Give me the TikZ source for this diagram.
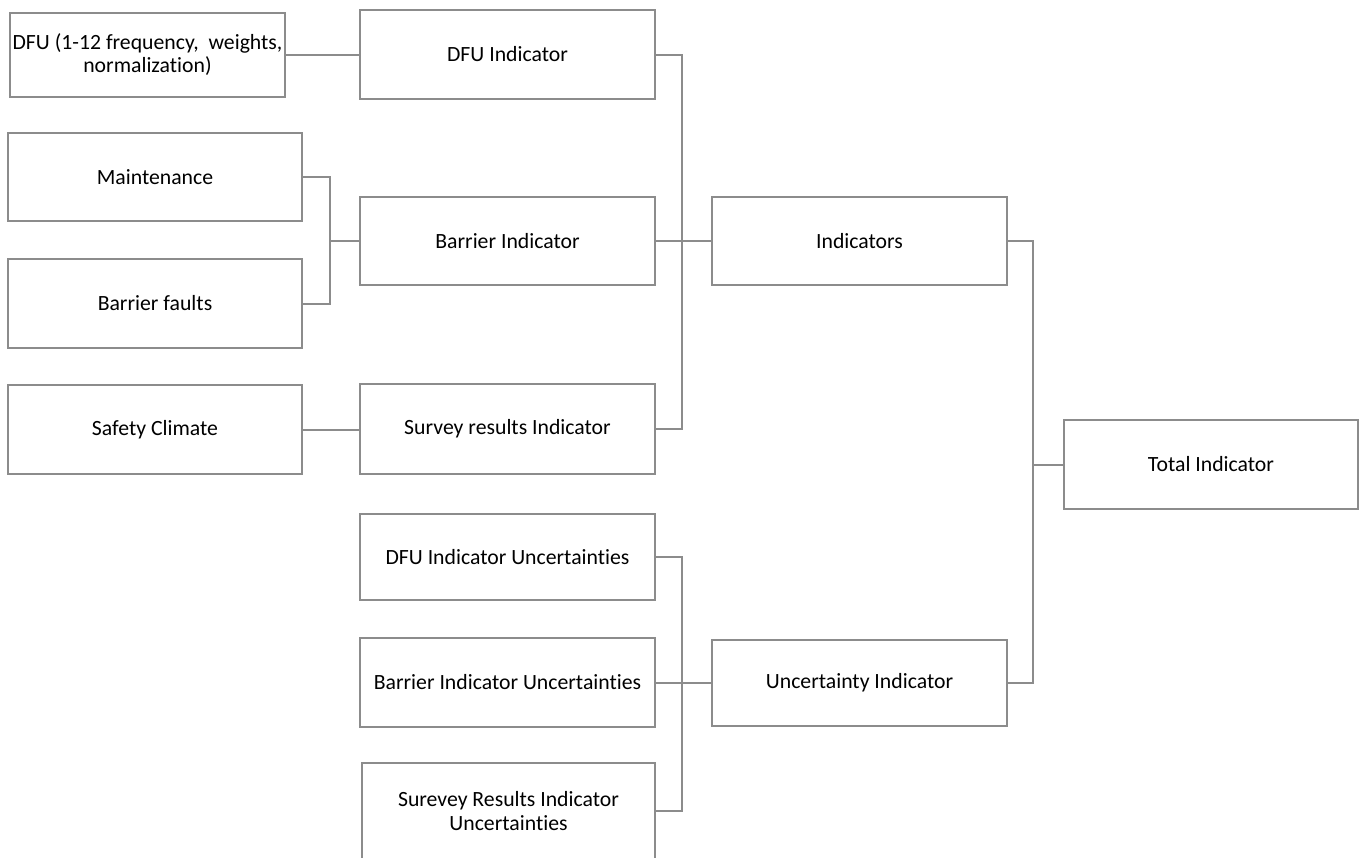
\documentclass[tikz,border=0pt]{standalone}
\usepackage{fontspec}
\setmainfont{Carlito}[Ligatures=NoCommon]
\definecolor{linegray}{RGB}{140,140,140}
\begin{document}
\begin{tikzpicture}[x=0.75pt,y=-0.75pt,
  box/.style={draw=linegray, line width=1.5pt, fill=white, inner sep=0pt, align=center,
    font=\fontsize{16.3}{17.5}\selectfont},
  conn/.style={draw=linegray, line width=1.5pt}]
\useasboundingbox (0,0) rectangle (1364,857);
% left column
\node[box, minimum width=206.25pt, minimum height=63pt] (dfuin) at (147.5,54.5)
  {\makebox[200pt][c]{DFU (1-12 frequency,\ \ weights,}\\normalization)};
\node[box, minimum width=220.5pt, minimum height=66pt] (maint) at (155,177) {Maintenance};
\node[box, minimum width=220.5pt, minimum height=66.75pt] (bfaults) at (155,303.5) {Barrier faults};
\node[box, minimum width=220.5pt, minimum height=66.75pt] (safety) at (155,429.5) {Safety Climate};
% middle column
\node[box, minimum width=221.25pt, minimum height=66.75pt] (dfuind) at (507.5,54.5) {DFU Indicator};
\node[box, minimum width=221.25pt, minimum height=66pt] (barind) at (507.5,241) {Barrier Indicator};
\node[box, minimum width=221.25pt, minimum height=67.5pt] (survey) at (507.5,429) {Survey results Indicator};
\node[box, minimum width=221.25pt, minimum height=64.5pt] (dfuunc) at (507.5,557) {DFU Indicator Uncertainties};
\node[box, minimum width=221.25pt, minimum height=66.75pt] (barunc) at (507.5,682.5) {Barrier Indicator Uncertainties};
\node[box, minimum width=219.75pt, minimum height=72pt] (surunc) at (508.5,811) {Surevey Results Indicator\\Uncertainties};
% right columns
\node[box, minimum width=221.25pt, minimum height=66pt] (indic) at (859.5,241) {Indicators};
\node[box, minimum width=221.25pt, minimum height=64.5pt] (uncind) at (859.5,682.5) {Uncertainty Indicator};
\node[box, minimum width=220.5pt, minimum height=66.75pt] (total) at (1211,464.5) {Total Indicator};
% buses
\coordinate (b0) at (330,241);
\coordinate (b1) at (682,241);
\coordinate (b2) at (682,682.5);
\coordinate (b3) at (1033,464.5);
% connectors
\draw[conn] (dfuin.east) -- (dfuind.west);
\draw[conn] (maint.east) -| (b0) |- (bfaults.east);
\draw[conn] (b0) -- (barind.west);
\draw[conn] (safety.east) -- (safety.east -| survey.west);
\draw[conn] (dfuind.east) -| (b1) |- (survey.east);
\draw[conn] (barind.east) -- (indic.west);
\draw[conn] (dfuunc.east) -| (b2) |- (surunc.east);
\draw[conn] (barunc.east) -- (uncind.west);
\draw[conn] (indic.east) -| (b3) |- (uncind.east);
\draw[conn] (b3) -- (total.west);
\end{tikzpicture}
\end{document}
